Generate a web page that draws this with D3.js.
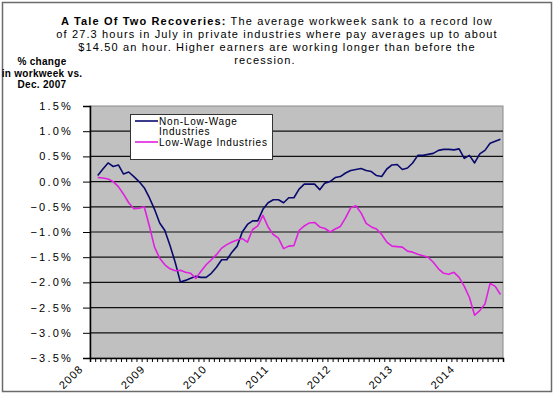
<!DOCTYPE html>
<html>
<head>
<meta charset="utf-8">
<script src="https://cdn.jsdelivr.net/npm/d3@7"></script>
<style>
  body { margin: 0; background: #fff; }
  svg { display: block; font-family: "Liberation Sans", Arial, sans-serif; }
  .lbl { font-size: 11px; letter-spacing: 1px; fill: #000; }
</style>
</head>
<body>
<div id="chart"></div>
<script>
// Monthly categories, Jan 2008 .. Aug 2014 (first month has no value)
var monthCount = 80;
var yearLabels = ['2008', '2009', '2010', '2011', '2012', '2013', '2014'];
var yTicks = [1.5, 1.0, 0.5, 0.0, -0.5, -1.0, -1.5, -2.0, -2.5, -3.0, -3.5];

// % change in workweek vs. Dec. 2007
var nonLowWage = [null,
  0.12, 0.25, 0.37, 0.30, 0.33, 0.15, 0.19, 0.10, 0.00, -0.12,
  -0.32, -0.55, -0.82, -0.97, -1.27, -1.60, -1.99, -1.96, -1.92, -1.88,
  -1.90, -1.90, -1.82, -1.70, -1.55, -1.55, -1.40, -1.28, -1.00, -0.85,
  -0.78, -0.78, -0.55, -0.42, -0.36, -0.36, -0.42, -0.32, -0.32, -0.15,
  -0.05, -0.05, -0.05, -0.16, -0.03, 0.00, 0.08, 0.10, 0.17, 0.22,
  0.24, 0.26, 0.22, 0.20, 0.12, 0.10, 0.25, 0.33, 0.34, 0.24,
  0.27, 0.37, 0.52, 0.52, 0.54, 0.56, 0.62, 0.64, 0.64, 0.63,
  0.65, 0.46, 0.52, 0.37, 0.55, 0.62, 0.76, 0.80, 0.84];

var lowWage = [null,
  0.08, 0.07, 0.05, 0.00, -0.10, -0.25, -0.42, -0.54, -0.53, -0.50,
  -0.88, -1.30, -1.52, -1.65, -1.73, -1.77, -1.76, -1.80, -1.82, -1.92,
  -1.78, -1.65, -1.55, -1.45, -1.32, -1.25, -1.20, -1.16, -1.13, -1.20,
  -0.95, -0.88, -0.67, -0.90, -1.05, -1.12, -1.33, -1.28, -1.27, -0.97,
  -0.88, -0.82, -0.81, -0.90, -0.93, -1.00, -0.94, -0.89, -0.72, -0.52,
  -0.48, -0.62, -0.83, -0.90, -0.94, -1.05, -1.20, -1.28, -1.29, -1.30,
  -1.38, -1.40, -1.44, -1.47, -1.50, -1.60, -1.73, -1.82, -1.84, -1.80,
  -1.90, -2.08, -2.30, -2.65, -2.56, -2.43, -2.02, -2.08, -2.24];

var seriesNames = ['Non-Low-Wage', 'Low-Wage Industries'];
var seriesColors = ['#0a0a6e', '#e020e0'];

var svgWidth = 556;
var svgHeight = 396;

var plot = { left: 90, right: 503, top: 106, bottom: 358 };

var svg = d3.select('#chart')
    .append('svg')
    .attr('width', svgWidth)
    .attr('height', svgHeight);

// outer frame
svg.append('rect')
    .attr('x', 2.5).attr('y', 2.5)
    .attr('width', 549).attr('height', 389)
    .attr('fill', '#fff')
    .attr('stroke', '#6b6b6b')
    .attr('stroke-width', 1.5);

var x = d3.scaleLinear().domain([0, monthCount]).range([plot.left, plot.right]);
var y = d3.scaleLinear().domain([-3.5, 1.5]).range([plot.bottom, plot.top]);

// plot background
svg.append('rect')
    .attr('x', plot.left).attr('y', plot.top)
    .attr('width', plot.right - plot.left)
    .attr('height', plot.bottom - plot.top)
    .attr('fill', '#c0c0c0')
    .attr('stroke', '#8a8a8a')
    .attr('stroke-width', 1);

// gridlines
svg.append('g')
    .selectAll('line')
    .data(yTicks.filter(d => d > -3.5 && d < 1.5))
    .enter()
    .append('line')
    .attr('x1', plot.left).attr('x2', plot.right)
    .attr('y1', d => y(d)).attr('y2', d => y(d))
    .attr('stroke', '#111')
    .attr('stroke-width', 1.2);

// y axis
var yAxis = d3.axisLeft(y)
    .tickValues(yTicks)
    .tickSize(7)
    .tickPadding(10)
    .tickFormat(d => d3.format('.1f')(d) + '%');
svg.append('g')
    .attr('transform', `translate(${plot.left},0)`)
    .call(yAxis)
    .call(g => g.select('.domain').attr('stroke', '#000').attr('stroke-width', 1.5))
    .call(g => g.selectAll('.tick line').attr('stroke', '#000'))
    .call(g => g.selectAll('.tick text').attr('class', 'lbl')
        .attr('font-family', null).attr('font-size', null)
        .style('letter-spacing', '2.2px'));

// x axis: monthly ticks, yearly labels
var xAxis = d3.axisBottom(x)
    .tickValues(d3.range(0, monthCount + 1))
    .tickSize(4)
    .tickFormat('');
svg.append('g')
    .attr('transform', `translate(0,${plot.bottom})`)
    .call(xAxis)
    .call(g => g.select('.domain').attr('stroke', '#000').attr('stroke-width', 1.5))
    .call(g => g.selectAll('.tick line').attr('stroke', '#000'));

svg.append('g')
    .selectAll('text')
    .data(yearLabels)
    .enter()
    .append('text')
    .attr('class', 'lbl')
    .attr('text-anchor', 'end')
    .attr('transform', (d, i) => `translate(${x(i * 12) - 9},${plot.bottom + 9}) rotate(-45)`)
    .attr('dy', '0.35em')
    .text(d => d);

// lines
var line = d3.line()
    .defined(d => d != null)
    .x((d, i) => x(i + 0.5))
    .y(d => y(d));

[nonLowWage, lowWage].forEach(function(series, k) {
    svg.append('path')
        .datum(series)
        .attr('fill', 'none')
        .attr('stroke', seriesColors[k])
        .attr('stroke-width', 1.6)
        .attr('stroke-linejoin', 'round')
        .attr('d', line);
});

// legend
var legend = svg.append('g');
legend.append('rect')
    .attr('x', 130.5).attr('y', 114.5)
    .attr('width', 142).attr('height', 45)
    .attr('fill', '#fff')
    .attr('stroke', '#333')
    .attr('stroke-width', 1);
legend.append('line')
    .attr('x1', 135).attr('x2', 158).attr('y1', 121).attr('y2', 121)
    .attr('stroke', seriesColors[0]).attr('stroke-width', 1.6);
legend.append('line')
    .attr('x1', 135).attr('x2', 158).attr('y1', 142).attr('y2', 142)
    .attr('stroke', seriesColors[1]).attr('stroke-width', 1.6);
legend.append('text').attr('class', 'lbl').style('font-size', '10px').style('letter-spacing', '0.8px')
    .attr('x', 159).attr('y', 124.5).text(seriesNames[0]);
legend.append('text').attr('class', 'lbl').style('font-size', '10px').style('letter-spacing', '0.8px')
    .attr('x', 159).attr('y', 135).text('Industries');
legend.append('text').attr('class', 'lbl').style('font-size', '10px').style('letter-spacing', '0.8px')
    .attr('x', 159).attr('y', 145.5).text(seriesNames[1]);

// title
var title = svg.append('text')
    .attr('class', 'lbl')
    .attr('text-anchor', 'middle')
    .style('letter-spacing', '1.15px');
var t1 = title.append('tspan').attr('x', 277).attr('y', 25);
t1.append('tspan').attr('font-weight', 'bold').text('A Tale Of Two Recoveries:');
t1.append('tspan').text(' The average workweek sank to a record low');
title.append('tspan').attr('x', 277).attr('y', 38)
    .text('of 27.3 hours in July in private industries where pay averages up to about');
title.append('tspan').attr('x', 277).attr('y', 51)
    .text('$14.50 an hour. Higher earners are working longer than before the');
title.append('tspan').attr('x', 265).attr('y', 64)
    .text('recession.');

// y axis title
var yTitle = svg.append('text')
    .attr('class', 'lbl')
    .attr('text-anchor', 'middle')
    .attr('font-weight', 'bold')
    .style('font-size', '10px')
    .style('letter-spacing', '0.3px');
['% change', 'in workweek vs.', 'Dec. 2007'].forEach(function(t, i) {
    yTitle.append('tspan').attr('x', 42).attr('y', 65 + i * 11.5).text(t);
});
</script>
</body>
</html>
